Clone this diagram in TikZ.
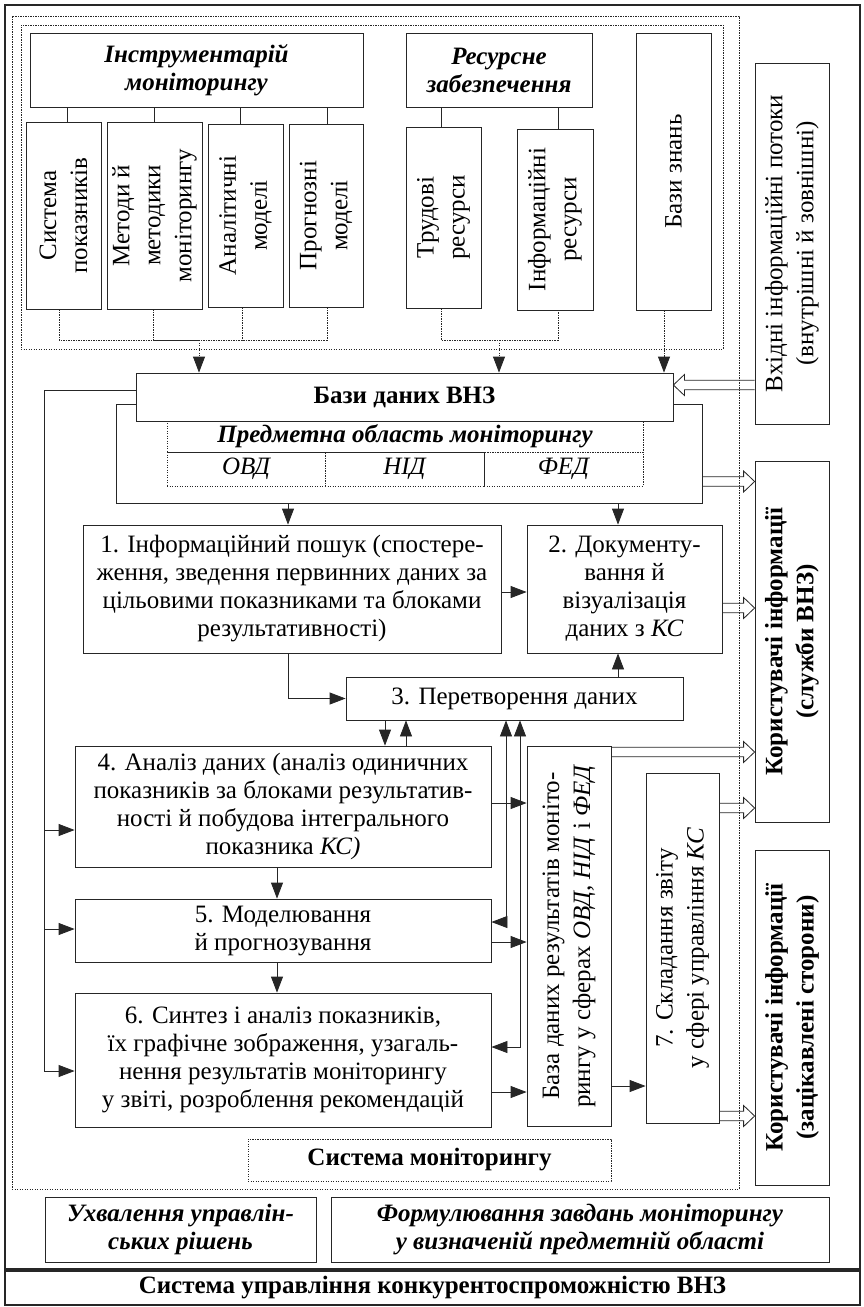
\documentclass[tikz,border=0pt]{standalone}
\usepackage{fontspec}
\setmainfont{Liberation Serif}
\usetikzlibrary{arrows.meta,calc}
\newcommand\fntBody{\fontsize{25}{28}\selectfont}
\newcommand\fntIt{\fontsize{25}{28}\selectfont\itshape}
\newcommand\fntB{\fontsize{25}{28}\selectfont\bfseries}
\newcommand\fntBI{\fontsize{25}{28}\selectfont\bfseries\itshape}
\newcommand\fntRot{\fontsize{25}{31}\selectfont}
\newcommand\fntRotB{\fontsize{25}{31}\selectfont\bfseries}
\newcommand\hArR[2]{\draw[ln] let \p1=(#1), \p2=(#2) in (\x1,\y1+4.7pt) -- (\x2-11pt,\y1+4.7pt) -- (\x2-11pt,\y1+10.5pt) -- (\x2,\y1) -- (\x2-11pt,\y1-10.5pt) -- (\x2-11pt,\y1-4.7pt) -- (\x1,\y1-4.7pt);}
\newcommand\hArL[2]{\draw[ln] let \p1=(#1), \p2=(#2) in (\x1,\y1+4.7pt) -- (\x2+11pt,\y1+4.7pt) -- (\x2+11pt,\y1+10.5pt) -- (\x2,\y1) -- (\x2+11pt,\y1-10.5pt) -- (\x2+11pt,\y1-4.7pt) -- (\x1,\y1-4.7pt);}
\tikzset{
  ln/.style={draw=black!85, line width=0.8pt},
  dln/.style={draw=black!85, line width=0.8pt, dash pattern=on 1.2pt off 1.3pt},
  box/.style={ln, rectangle, inner sep=0pt, align=center, font=\fntBody},
  wbox/.style={box, fill=white},
  dbox/.style={box, dash pattern=on 1.2pt off 1.3pt},
  rot/.style={rotate=90, align=center, inner sep=0pt, font=\fntRot},
  tip/.tip={Triangle[length=16pt,width=12pt]},
  arr/.style={ln, -tip},
  darr/.style={dln, -tip},
  biarr/.style={ln, tip-tip},
}
\begin{document}
\begin{tikzpicture}[x=1pt,y=-1pt]
\useasboundingbox (0,0) rectangle (863,1307);
% frames
\node[box, line width=1.6pt, minimum width=855pt, minimum height=1264pt] (outer) at (432.5,637) {};
\node[dbox, minimum width=727pt, minimum height=1173pt] (monit) at (375.5,602.5) {};
\node[dbox, minimum width=702pt, minimum height=324pt] (topd) at (372,187) {};
% top
\node[box, minimum width=333pt, minimum height=74pt, font=\fntBI] (instr) at (196.5,70) {Інструментарій\\моніторингу};
\node[box, minimum width=186pt, minimum height=74pt, font=\fntBI] (res) at (499,70) {Ресурсне\\забезпечення};
\node[box, minimum width=75pt, minimum height=187pt] (sys) at (63.5,215.5) {};
\node[rot] (sysT) at (sys) {Система\\показників};
\node[box, minimum width=95pt, minimum height=187pt] (met) at (154.5,215.5) {};
\node[rot] (metT) at (met) {Методи й\\методики\\моніторингу};
\node[box, minimum width=75pt, minimum height=183pt] (anm) at (245.5,215.5) {};
\node[rot] (anmT) at (anm) {Аналітичні\\моделі};
\node[box, minimum width=74pt, minimum height=183pt] (prm) at (326,215.5) {};
\node[rot] (prmT) at (prm) {Прогнозні\\моделі};
\node[box, minimum width=75pt, minimum height=181pt] (lab) at (443.5,217.5) {};
\node[rot] (labT) at (lab) {Трудові\\ресурси};
\node[box, minimum width=76pt, minimum height=181pt] (inf) at (555,219.5) {};
\node[rot] (infT) at (inf) {Інформаційні\\ресурси};
\node[box, minimum width=75pt, minimum height=277pt] (kb) at (673.5,171.5) {};
\node[rot] (kbT) at (kb) {Бази знань};
\node[box, minimum width=74pt, minimum height=361pt] (inp) at (792,243.5) {};
\node[rot] (inpT) at (inp) {Вхідні інформаційні потоки\\(внутрішні й зовнішні)};
\foreach \xx/\n in {67/sys,154/met,240/anm,327/prm} \draw[ln] (instr.south -| \xx,0) -- (\n.north -| \xx,0);
\draw[ln] (res.south -| 441,0) -- (lab.north -| 441,0);
\draw[ln] (res.south -| 558,0) -- (inf.north -| 558,0);
% middle
\node[box, minimum width=586pt, minimum height=99pt] (bigr) at (409,453.5) {};
\node[dbox, minimum width=476pt, minimum height=31pt, font=\fntBI] (pt) at (405,436.5) {Предметна область моніторингу};
\node[dbox, minimum width=158pt, minimum height=34pt, font=\fntIt] (c1) at (246,469) {ОВД};
\node[dbox, minimum width=159pt, minimum height=34pt, font=\fntIt] (c2) at (404.5,469) {НІД};
\node[dbox, minimum width=159pt, minimum height=34pt, font=\fntIt] (c3) at (563.5,469) {ФЕД};
\node[wbox, minimum width=537pt, minimum height=48pt, font=\fntB] (bd) at (404.5,397) {Бази даних ВНЗ};
% dotted joins
\coordinate (j1) at (199,340);
\coordinate (j2) at (499,340);
\draw[dln] (sys.south -| 59,0) |- (j1) -| (prm.south -| 327,0);
\draw[dln] (met.south -| 153,0) |- (j1);
\draw[dln] (anm.south -| 242,0) |- (j1);
\draw[darr] (j1) -- (bd.north -| j1);
\draw[dln] (lab.south -| 441,0) |- (j2) -| (inf.south -| 558,0);
\draw[darr] (j2) -- (bd.north -| j2);
\draw[darr] (kb.south -| 664,0) -- (bd.north -| 664,0);
% process boxes
\node[box, minimum width=418pt, minimum height=128pt] (b1) at (292,589) {1. Інформаційний пошук (спостере-\\ження, зведення первинних даних за\\цільовими показниками та блоками\\результативності)};
\node[box, minimum width=195pt, minimum height=128pt] (b2) at (624.5,589) {2. Документу-\\вання й\\візуалізація\\даних з \textit{КС}};
\node[box, minimum width=337pt, minimum height=43pt] (b3) at (514.5,698.5) {3. Перетворення даних};
\node[box, minimum width=416pt, minimum height=121pt] (b4) at (283,806.5) {4. Аналіз даних (аналіз одиничних\\показників за блоками результатив-\\ності й побудова інтегрального\\показника \textit{КС)}};
\node[box, minimum width=416pt, minimum height=63pt] (b5) at (283,930.5) {5. Моделювання\\й прогнозування};
\node[box, minimum width=416pt, minimum height=134pt] (b6) at (283,1060) {6. Синтез і аналіз показників,\\їх графічне зображення, узагаль-\\нення результатів моніторингу\\у звіті, розроблення рекомендацій};
\node[box, minimum width=84pt, minimum height=380pt] (dbr) at (569,936) {};
\node[rot] (dbrT) at (dbr) {База даних результатів моніто-\\рингу у сферах \textit{ОВД, НІД} і \textit{ФЕД}};
\node[box, minimum width=73pt, minimum height=350pt] (b7) at (682.5,948) {};
\node[rot] (b7T) at (b7) {7. Складання звіту\\у сфері управління \textit{КС}};
\node[box, minimum width=74pt, minimum height=361pt] (k1) at (792,641.5) {};
\node[rot, font=\fntRotB] (k1T) at (k1) {Користувачі інформації\\(служби ВНЗ)};
\node[box, minimum width=74pt, minimum height=335pt] (k2) at (792,1017.5) {};
\node[rot, font=\fntRotB] (k2T) at (k2) {Користувачі інформації\\(зацікавлені сторони)};
% bottom
\node[dbox, minimum width=363pt, minimum height=42pt, font=\fntB] (sm) at (429.5,1160) {Система моніторингу};
\node[box, minimum width=271pt, minimum height=65pt, font=\fntBI] (uh) at (180.5,1229.5) {Ухвалення управлін-\\ських рішень};
\node[box, minimum width=498pt, minimum height=65pt, font=\fntBI] (fz) at (580,1229.5) {Формулювання завдань моніторингу\\у визначеній предметній області};
\node[box, line width=1.2pt, minimum width=855pt, minimum height=34pt, font=\fntB] (scs) at (432.5,1288) {Система управління конкурентоспроможністю ВНЗ};
% left loop
\coordinate (lb) at (44,1071);
\coordinate (l4) at (44,830);
\coordinate (l5) at (44,929);
\draw[ln] (bd.west |- 0,390) -| (lb);
\draw[arr] (lb) -- (b6.west |- lb);
\draw[arr] (l4) -- (b4.west |- l4);
\draw[arr] (l5) -- (b5.west |- l5);
% arrows
\draw[arr] (bigr.south -| 288,0) -- (b1.north -| 288,0);
\draw[arr] (bigr.south -| 618,0) -- (b2.north -| 618,0);
\draw[arr] (b1.east |- 0,592) -- (b2.west |- 0,592);
\draw[arr] (b1.south -| 288,0) |- (b3.west);
\draw[arr] (b3.north -| 618,0) -- (b2.south -| 618,0);
\draw[arr] (b3.south -| 385,0) -- (b4.north -| 385,0);
\draw[arr] (b4.north -| 406,0) -- (b3.south -| 406,0);
\draw[arr] (b4.south -| 277,0) -- (b5.north -| 277,0);
\draw[arr] (b5.south -| 277,0) -- (b6.north -| 277,0);
\draw[arr] (b4.east |- 0,803) -- (dbr.west |- 0,803);
\draw[arr] (b5.east |- 0,942) -- (dbr.west |- 0,942);
\draw[arr] (b6.east |- 0,1092) -- (dbr.west |- 0,1092);
\draw[biarr] (b5.east |- 0,922) -| (b3.south -| 506,0);
\draw[biarr] (b6.east |- 0,1047) -| (b3.south -| 520,0);
\draw[arr] (dbr.east |- 0,1086) -- (b7.west |- 0,1086);
% hollow arrows
\hArR{bigr.east |- 0,481.5}{k1.west}
\hArR{b2.east |- 0,608}{k1.west}
\hArR{dbr.east |- 0,752}{k1.west}
\hArR{b7.east |- 0,808}{k1.west}
\hArR{b7.east |- 0,1116}{k2.west}
\hArL{inp.west |- 0,385}{bd.east}
\end{tikzpicture}
\end{document}
